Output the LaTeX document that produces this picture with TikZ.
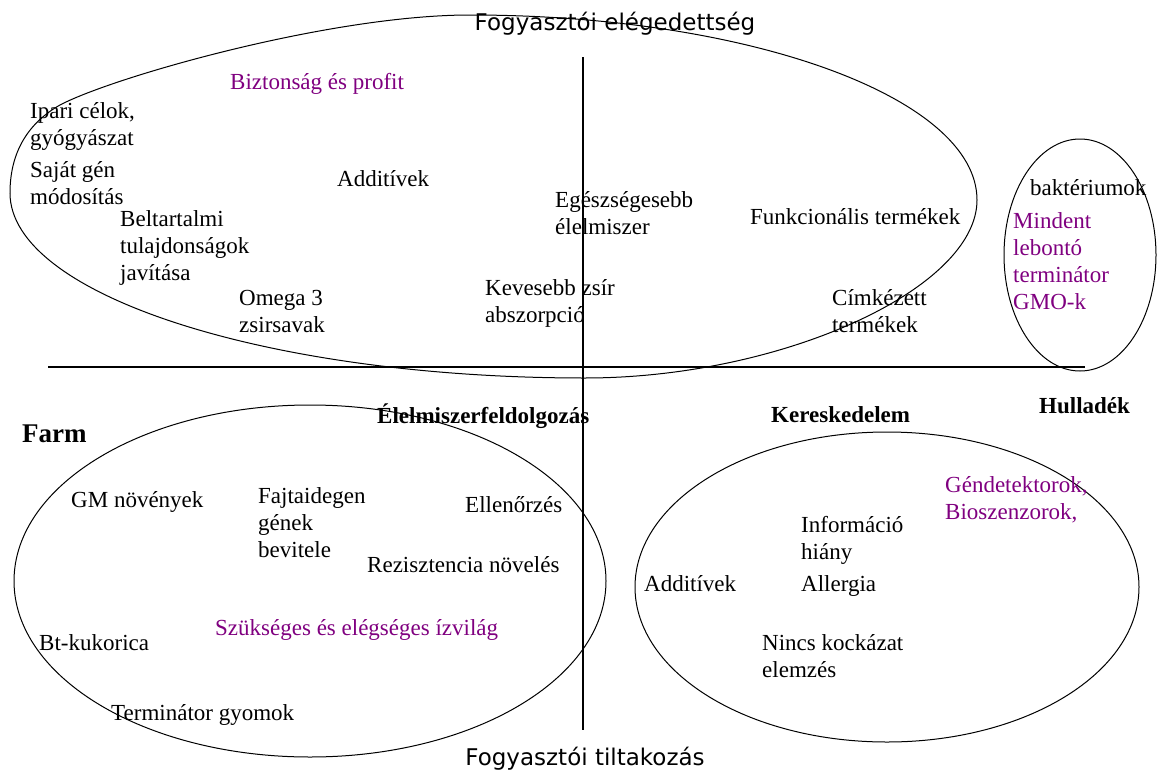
\documentclass[tikz,border=0pt]{standalone}
\usepackage{fontspec}
\setmainfont{Liberation Serif}
\newfontfamily\titlefont{DejaVu Sans}
\definecolor{purp}{RGB}{128,0,128}
\tikzset{
  lbl/.style={anchor=base west, inner sep=0pt, font=\fontsize{23}{27}\selectfont, align=left},
  plbl/.style={lbl, text=purp},
  blbl/.style={lbl, font=\fontsize{23}{27}\selectfont\bfseries},
  ttl/.style={anchor=base, inner sep=0pt, font=\titlefont\fontsize{23}{27}\selectfont},
  outline/.style={line width=1pt},
  axis/.style={line width=1.3pt}
}
\begin{document}
\begin{tikzpicture}[x=1pt,y=-1pt]
\useasboundingbox (0,0) rectangle (1157,771);
\fill[white] (0,0) rectangle (1157,771);

% axes
\coordinate (vtop) at (583,57);
\coordinate (vbot) at (583,730);
\coordinate (hleft) at (48,367);
\coordinate (hright) at (1085,367);
\draw[axis] (vtop) -- (vbot);
\draw[axis] (hleft) -- (hright);

% upper freeform oval
\draw[outline] (10,193)
  .. controls (10,150) and (30,122) .. (60,105)
  .. controls (113,77) and (330,15) .. (470,15)
  .. controls (750,15) and (977,98) .. (977,200)
  .. controls (977,289) and (781,378) .. (585,378)
  .. controls (268,378) and (10,295) .. cycle;
% other outlines
\draw[outline] (1080,255) ellipse [x radius=76pt, y radius=116pt];
\draw[outline] (310,581) ellipse [x radius=296pt, y radius=176pt];
\draw[outline] (887,587) ellipse [x radius=252pt, y radius=155pt];

% titles
\node[ttl] (sat) at (615,30) {Fogyasztói elégedettség};
\node[ttl] (tilt) at (585,765) {Fogyasztói tiltakozás};

% upper region (multi-line nodes: base = last line's baseline)
\node[plbl] (bizt) at (230,89) {Biztonság és profit};
\node[lbl] (ipari) at (30,145) {Ipari célok,\\gyógyászat};
\node[lbl] (sajat) at (30,204) {Saját gén\\módosítás};
\node[lbl] (belt) at (120,280) {Beltartalmi\\tulajdonságok\\javítása};
\node[lbl] (add1) at (337,186) {Additívek};
\node[lbl] (omega) at (239,332) {Omega 3\\zsirsavak};
\node[lbl] (keves) at (485,322) {Kevesebb zsír\\abszorpció};
\node[lbl] (egesz) at (555,234) {Egészségesebb\\élelmiszer};
\node[lbl] (funk) at (750,224) {Funkcionális termékek};
\node[lbl] (cimk) at (832,332) {Címkézett\\termékek};
\node[lbl] (bakt) at (1030,195) {baktériumok};
\node[plbl] (mind) at (1013,309) {Mindent\\lebontó\\terminátor\\GMO-k};

% lower region
\node[blbl, font=\fontsize{27}{30}\selectfont\bfseries] (farm) at (22,442) {Farm};
\node[blbl] (elelm) at (377,423) {Élelmiszerfeldolgozás};
\node[blbl] (keresk) at (771,422) {Kereskedelem};
\node[blbl] (hull) at (1039,413) {Hulladék};
\node[lbl] (gm) at (71,507) {GM növények};
\node[lbl] (fajt) at (258,557) {Fajtaidegen\\gének\\bevitele};
\node[lbl] (ellen) at (465,512) {Ellenőrzés};
\node[lbl] (rezi) at (367,572) {Rezisztencia növelés};
\node[plbl] (szuk) at (215,635) {Szükséges és elégséges ízvilág};
\node[lbl] (bt) at (39,650) {Bt-kukorica};
\node[lbl] (term) at (111,720) {Terminátor gyomok};
\node[plbl] (gend) at (945,519) {Géndetektorok,\\Bioszenzorok,};
\node[lbl] (info) at (801,559) {Információ\\hiány};
\node[lbl] (allerg) at (801,591) {Allergia};
\node[lbl] (add2) at (644,591) {Additívek};
\node[lbl] (nincs) at (762,677) {Nincs kockázat\\elemzés};
\end{tikzpicture}
\end{document}
